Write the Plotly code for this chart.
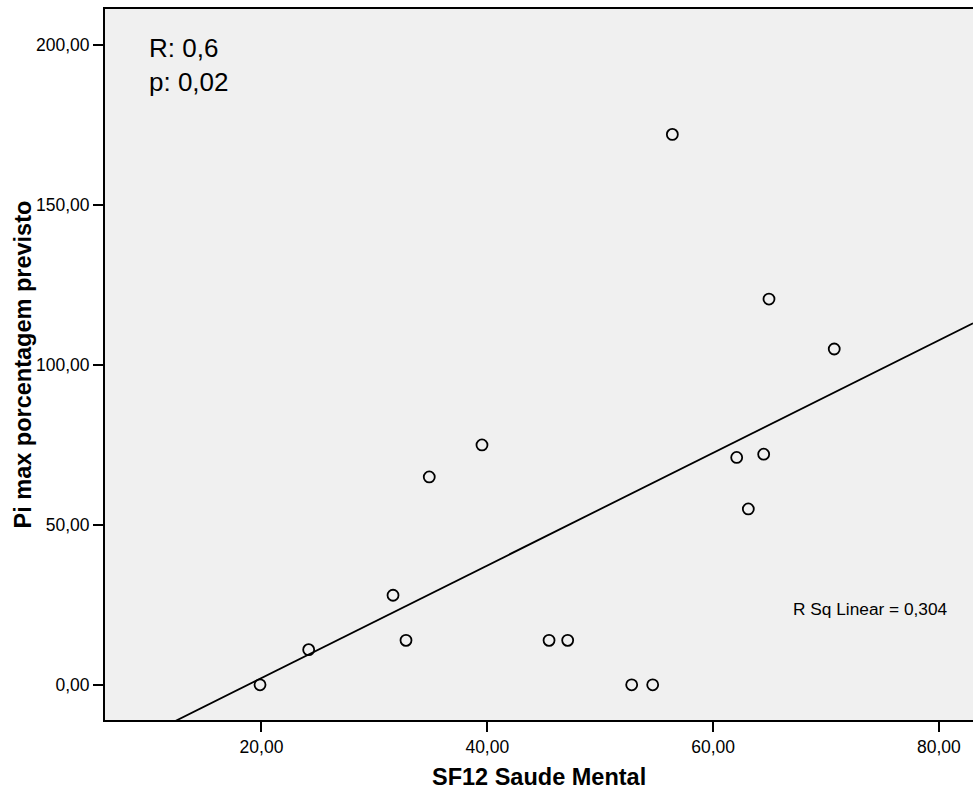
import numpy as np
import plotly.graph_objects as go

# Data
sf12_mental = [19.87, 24.18, 31.65, 32.80, 34.86, 39.53, 45.47, 47.12, 52.79, 54.65,
               56.39, 62.09, 63.12, 64.48, 64.95, 70.73]
pimax_pct = [0.0, 11.0, 28.0, 13.9, 65.0, 75.0, 13.9, 13.9, 0.0, 0.0,
             172.1, 71.1, 55.0, 72.1, 120.6, 105.0]
x_ticks = [20, 40, 60, 80]
y_ticks = [0, 50, 100, 150, 200]
x_range = [6.14, 83.02]
y_range = [-11.0, 211.3]

slope, intercept = np.polyfit(sf12_mental, pimax_pct, 1)
fit_x = np.array(x_range)
fit_y = slope * fit_x + intercept

FONT = "Liberation Sans, Arial, sans-serif"

fig = go.Figure()
fig.add_trace(go.Scatter(
    x=fit_x, y=fit_y, mode="lines",
    line=dict(color="black", width=1.8), hoverinfo="skip", showlegend=False))
fig.add_trace(go.Scatter(
    x=sf12_mental, y=pimax_pct, mode="markers",
    marker=dict(symbol="circle-open", size=11, color="black", line=dict(width=1.8)),
    showlegend=False))

axis_common = dict(showgrid=False, zeroline=False, showline=True, linecolor="black",
                   linewidth=2, ticks="outside", ticklen=10, tickwidth=2, tickcolor="black",
                   tickformat=".2f", tickfont=dict(family=FONT, size=17.5, color="black"))

fig.update_layout(
    width=973, height=789,
    margin=dict(l=105, r=0, t=9, b=69),
    paper_bgcolor="white", plot_bgcolor="#f0f0f0",
    separators=",.",
    xaxis=dict(range=x_range, tickvals=x_ticks, mirror=True, **axis_common),
    yaxis=dict(range=y_range, tickvals=y_ticks, mirror=False, **axis_common),
    annotations=[
        dict(text="<b>SF12 Saude Mental</b>", xref="paper", yref="paper", x=0.5, y=0,
             xanchor="center", yanchor="middle", yshift=-56.5, showarrow=False,
             font=dict(family=FONT, size=23.5, color="black")),
        dict(text="<b>Pi max porcentagem previsto</b>", xref="paper", yref="paper", x=0, y=0.5,
             xanchor="center", yanchor="middle", xshift=-83, textangle=-90, showarrow=False,
             font=dict(family=FONT, size=23.5, color="black")),
        dict(text="R: 0,6", xref="paper", yref="paper", x=0, y=1, xanchor="left",
             yanchor="middle", xshift=42, yshift=-39, showarrow=False,
             font=dict(family=FONT, size=26, color="black")),
        dict(text="p: 0,02", xref="paper", yref="paper", x=0, y=1, xanchor="left",
             yanchor="middle", xshift=42, yshift=-73, showarrow=False,
             font=dict(family=FONT, size=26, color="black")),
        dict(text="R Sq Linear = 0,304", xref="paper", yref="paper", x=0, y=0, xanchor="left",
             yanchor="middle", xshift=686, yshift=111.5, showarrow=False,
             font=dict(family=FONT, size=17.3, color="black")),
    ],
)

fig.write_html("out.html")
